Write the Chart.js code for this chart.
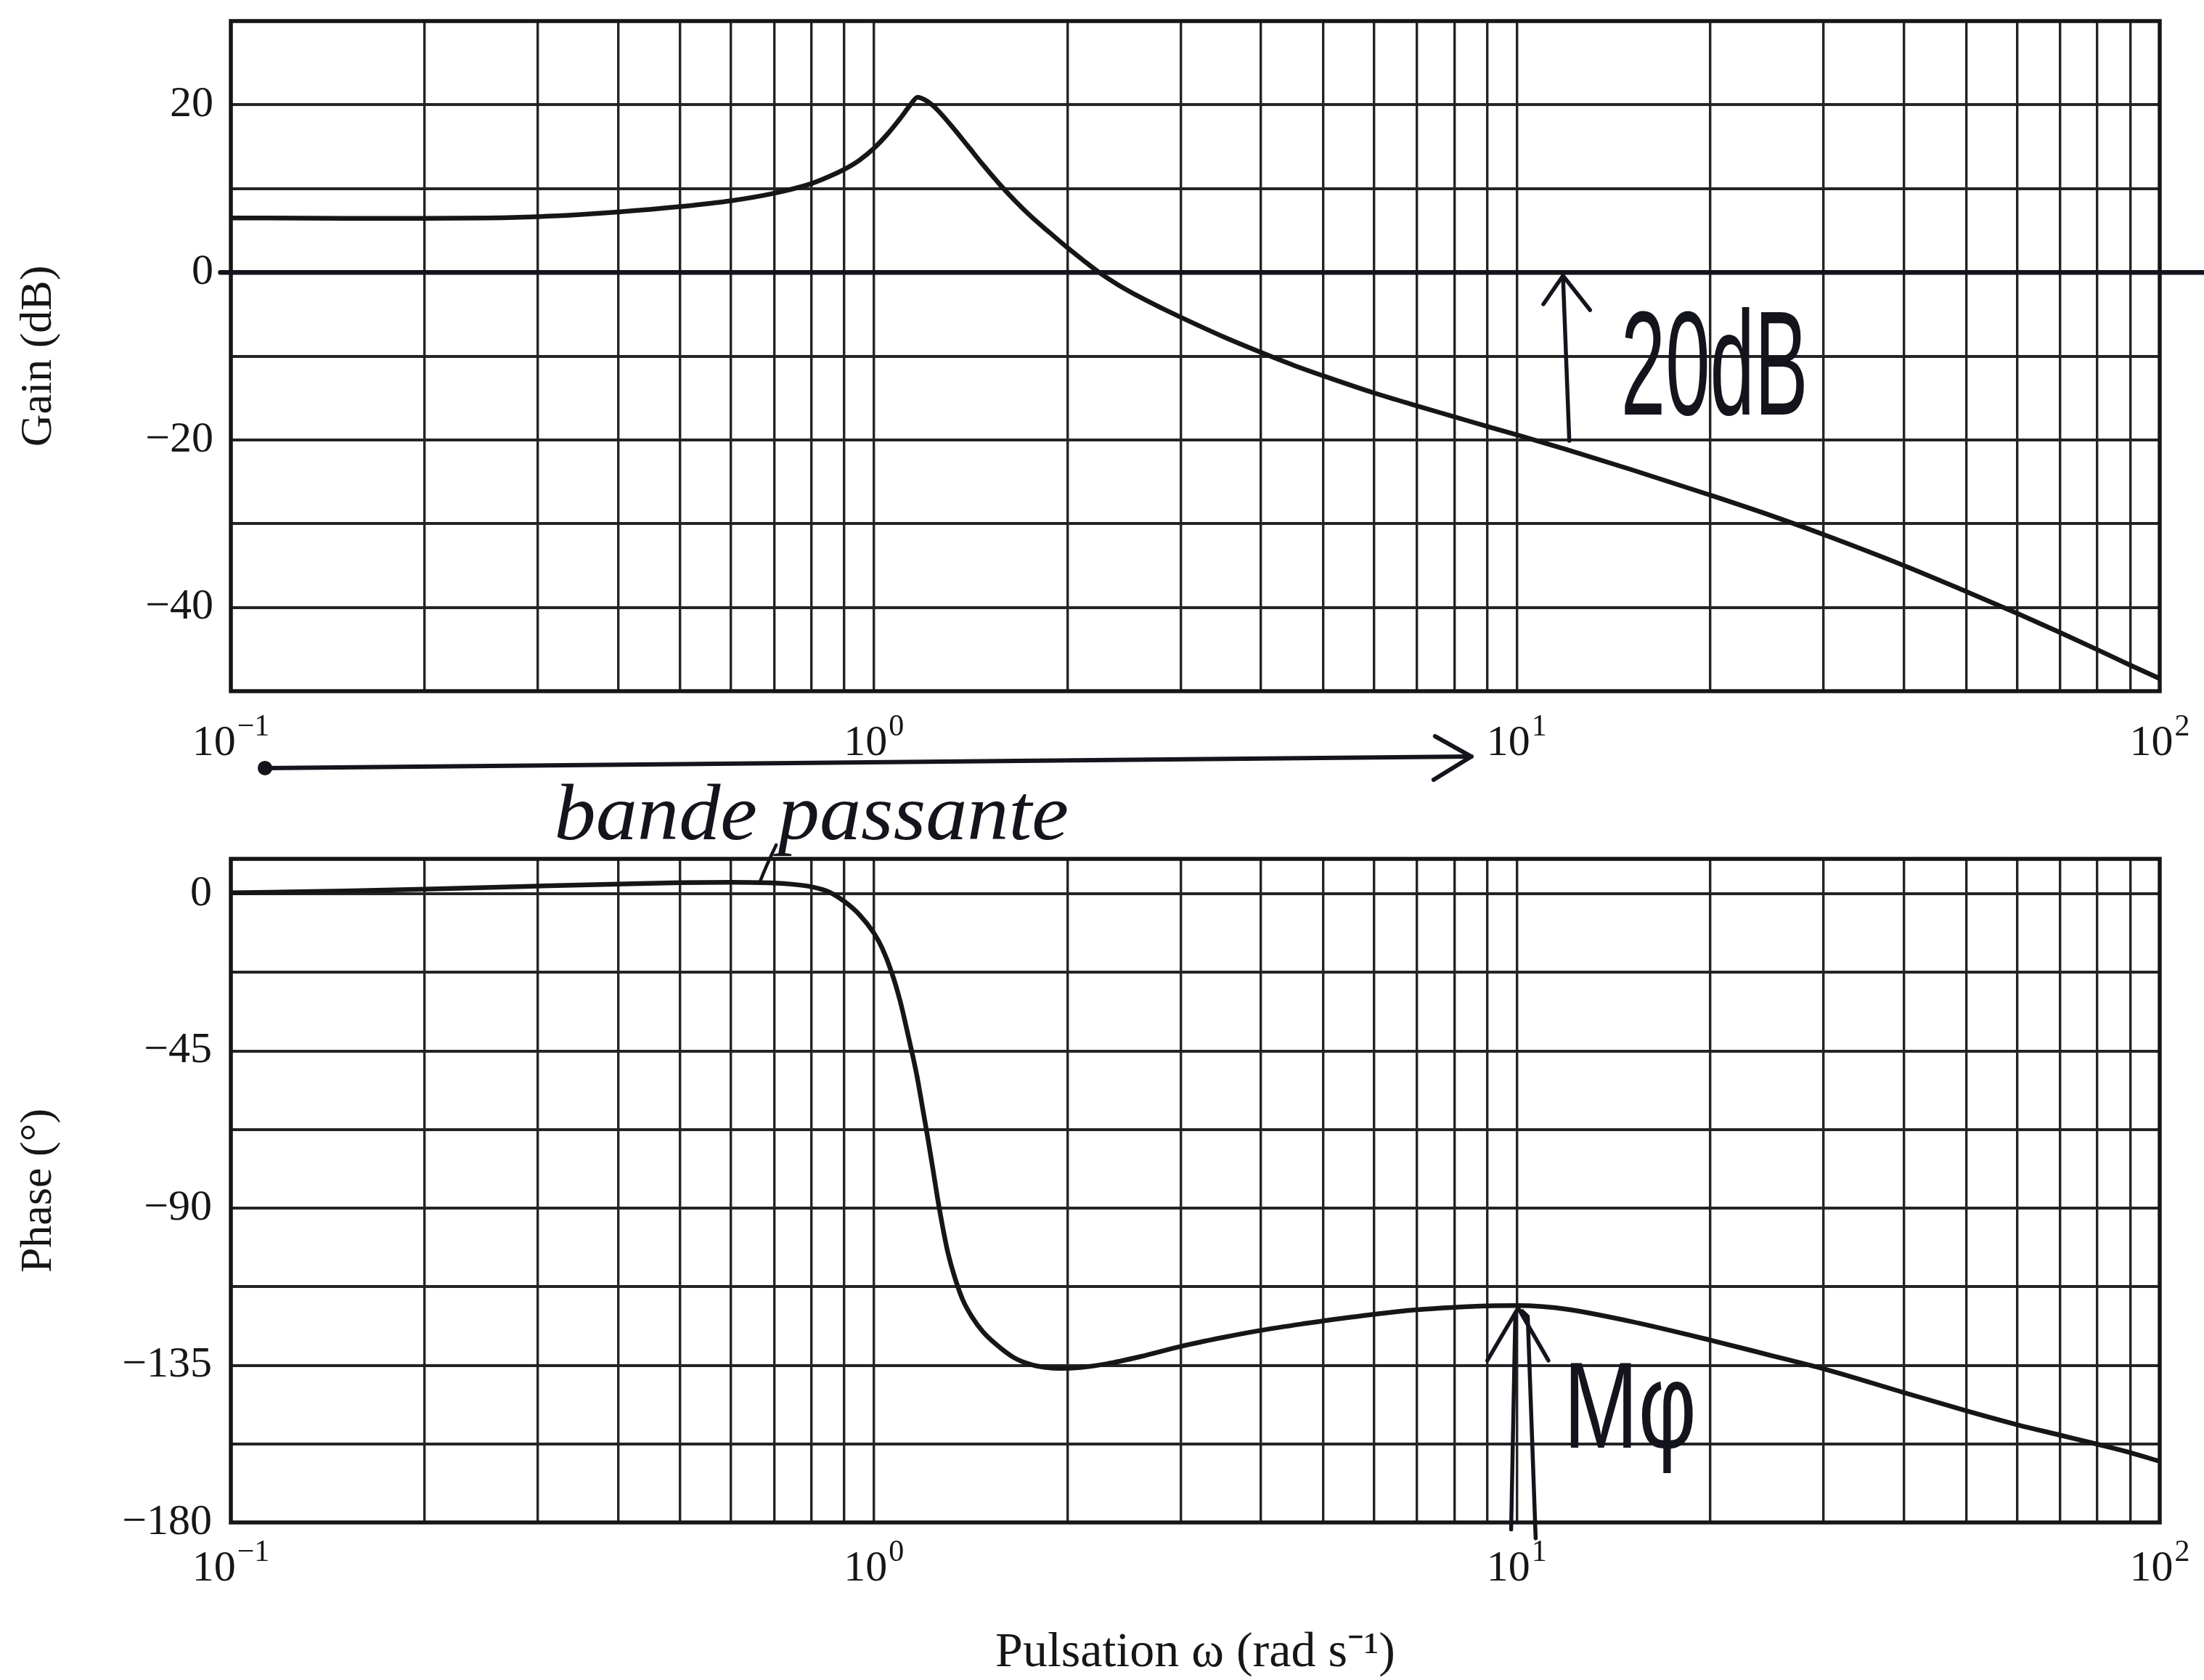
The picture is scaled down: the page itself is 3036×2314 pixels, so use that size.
<!DOCTYPE html>
<html><head><meta charset="utf-8">
<script src="https://cdn.jsdelivr.net/npm/chart.js@4.4.1/dist/chart.umd.min.js"></script>
<style>
html,body{margin:0;padding:0;background:#fff;}
body{width:3036px;height:2314px;position:relative;overflow:hidden;}
#g{position:absolute;left:0;top:0;}
#p{position:absolute;left:0;top:1000px;}
</style></head><body>
<canvas id="g" width="3036" height="1080"></canvas>
<canvas id="p" width="3036" height="1314"></canvas>
<script>
// ---------------- data ----------------
const omegaGain = [0.1,0.15,0.2,0.25,0.3,0.35,0.4,0.5,0.6,0.7,0.8,0.85,0.9,0.95,1.0,1.05,1.1,1.14,1.17,1.2,1.24,1.28,1.33,1.4,1.48,1.57,1.66,1.76,1.88,2.0,2.12,2.24,2.4,2.6,2.8,3.0,3.5,4.0,4.5,5.0,6.0,7.0,8.0,9.0,10,12,15,20,25,30,40,50,60,70,80,90,100];
const gainDb    = [6.5,6.45,6.45,6.5,6.65,6.9,7.2,7.85,8.55,9.45,10.6,11.4,12.3,13.4,14.8,16.5,18.4,20.0,20.9,20.6,19.8,18.7,17.2,15.1,12.8,10.5,8.5,6.6,4.7,2.95,1.4,0,-1.5,-3.0,-4.25,-5.35,-7.7,-9.55,-11.1,-12.35,-14.4,-15.95,-17.25,-18.4,-19.4,-21.2,-23.5,-26.6,-29.1,-31.3,-35.0,-38.1,-40.7,-43.0,-45.05,-46.9,-48.5];

const omegaPhase = [0.1,0.15,0.2,0.3,0.4,0.5,0.6,0.7,0.75,0.8,0.85,0.9,0.95,1.0,1.03,1.066,1.1,1.126,1.15,1.168,1.19,1.211,1.235,1.256,1.28,1.303,1.34,1.377,1.42,1.48,1.55,1.652,1.75,1.85,1.95,2.1,2.3,2.6,3.0,3.5,4.0,4.7,5.0,6.0,7.0,8.0,9.0,10,11,12,15,20,25,30,40,50,60,70,80,90,100];
const phaseDeg   = [0.3,0.8,1.3,2.2,2.8,3.2,3.3,3.1,2.7,2.0,0.6,-2.2,-6.0,-11.2,-15.5,-22.5,-31,-39,-46.5,-52.5,-61,-69,-78.5,-87,-95.5,-102.5,-110.5,-116.5,-121,-125.5,-129,-132.8,-134.7,-135.6,-135.9,-135.6,-134.6,-132.5,-129.6,-127,-125.0,-123,-122.3,-120.4,-119.1,-118.4,-118.0,-117.9,-118.2,-119,-122.4,-127.8,-132.3,-136,-142.8,-148,-152,-155,-157.6,-160,-162.5];

const xGridValues = [0.1,0.2,0.3,0.4,0.5,0.6,0.7,0.8,0.9,1,2,3,4,5,6,7,8,9,10,20,30,40,50,60,70,80,90,100];
const xDecades = [0.1,1,10,100];
const xDecadeExponents = ['\u22121','0','1','2'];
const gainGridValues = [-50,-40,-30,-20,-10,0,10,20,30];
const gainTickLabels = [20,0,-20,-40];
const phaseGridValues = [-180,-157.5,-135,-112.5,-90,-67.5,-45,-22.5,0];
const phaseTickLabels = [0,-45,-90,-135,-180];

// handwritten notes (data units: omega, dB or degrees)
const zeroLineStart = 0.0963;
const gainArrowBase = [12.07,-20.1];
const gainArrowTip = [11.8,-0.4];
const gainArrowWings = [[11.0,-3.8],[13.0,-4.5]];
const gainNoteText = '20dB';
const gainNoteBase = [20.3,-17.0];

const bandArrowStart = [0.113,36.0];
const bandArrowEnd = [8.5,39.3];
const bandNoteText = 'bande passante';
const bandNotePos = [0.80,21.5];
const bandPointer = [[0.705,14.0],[0.68,8],[0.665,3.4]];

const mphiShafts = [[[9.8,-182],[9.95,-120]],[[10.7,-184.5],[10.4,-121],[10.2,-119.5]]];
const mphiTip = [10.05,-118.6];
const mphiWings = [[9.0,-133.6],[11.2,-133.6]];
const mphiText = 'M\u03c6';
const mphiBase = [15.0,-158.5];

// ---------------- styles ----------------
const SERIF = '"Liberation Serif","Times New Roman",serif';
const HANDF = '"Liberation Sans","DejaVu Sans",sans-serif';
const INK = '#161616';
const PEN = '#14141c';
const AREA_LEFT = 318, AREA_RIGHT = 2975;

function fmt(v){ return v < 0 ? '\u2212' + Math.abs(v) : String(v); }

function xAxis(height){
  return {
    type:'logarithmic', min:0.1, max:100,
    afterBuildTicks: s => { s.ticks = xGridValues.map(v => ({value:v})); },
    afterFit: s => { s.height = height; s.paddingLeft = 0; s.paddingRight = 0; },
    ticks:{display:false},
    grid:{color:'#242424', lineWidth:3.4, drawTicks:false},
    border:{display:false}
  };
}
function yAxis(min,max,grid,labels,title,titlePad,tickPad){
  return {
    type:'linear', min:min, max:max,
    afterBuildTicks: s => { s.ticks = grid.map(v => ({value:v})); },
    afterFit: s => { s.width = AREA_LEFT; s.paddingTop = 0; s.paddingBottom = 0; },
    ticks:{ autoSkip:false, padding:tickPad, color:INK,
      font:{family:SERIF, size:60},
      callback: v => labels.includes(v) ? fmt(v) : '' },
    grid:{color:'#242424', lineWidth:4, drawTicks:false},
    border:{display:false},
    title:{display:true, text:title, color:INK, font:{family:SERIF, size:62}, padding:{top:titlePad, bottom:0}}
  };
}

const framePlugin = {
  id:'frame',
  afterDatasetsDraw(chart){
    const {ctx, chartArea:a} = chart;
    ctx.save(); ctx.strokeStyle = INK; ctx.lineWidth = 5.5;
    ctx.strokeRect(a.left, a.top, a.right - a.left, a.bottom - a.top);
    ctx.restore();
  }
};
const decadePlugin = {
  id:'decades',
  afterDraw(chart, args, opts){
    const {ctx, chartArea:a} = chart; const xs = chart.scales.x;
    ctx.save(); ctx.fillStyle = INK; ctx.textAlign = 'left'; ctx.textBaseline = 'alphabetic';
    xDecades.forEach((v,i) => {
      const px = xs.getPixelForValue(v);
      ctx.font = '60px ' + SERIF; const wb = ctx.measureText('10').width;
      ctx.font = '42px ' + SERIF; const we = ctx.measureText(xDecadeExponents[i]).width;
      const x0 = px - (wb + we + 2) / 2; const by = a.bottom + opts.offset;
      ctx.font = '60px ' + SERIF; ctx.fillText('10', x0, by);
      ctx.font = '42px ' + SERIF; ctx.fillText(xDecadeExponents[i], x0 + wb + 2, by - 27);
    });
    ctx.restore();
  }
};
function line(ctx, pts){ ctx.beginPath(); ctx.moveTo(pts[0][0], pts[0][1]); for (let i=1;i<pts.length;i++) ctx.lineTo(pts[i][0], pts[i][1]); ctx.stroke(); }

const gainNotes = {
  id:'gainNotes',
  afterDraw(chart){
    const {ctx} = chart; const xs = chart.scales.x, ys = chart.scales.y;
    const P = p => [xs.getPixelForValue(p[0]), ys.getPixelForValue(p[1])];
    ctx.save(); ctx.strokeStyle = PEN; ctx.fillStyle = PEN; ctx.lineCap = 'round'; ctx.lineJoin = 'round';
    ctx.lineWidth = 6.5;
    const y0 = ys.getPixelForValue(0);
    line(ctx, [[xs.getPixelForValue(zeroLineStart), y0], [chart.width, y0]]);
    ctx.lineWidth = 5.5;
    line(ctx, [P(gainArrowBase), P(gainArrowTip)]);
    line(ctx, [P(gainArrowWings[0]), P(gainArrowTip), P(gainArrowWings[1])]);
    const t = P(gainNoteBase);
    ctx.save(); ctx.translate(t[0], t[1]); ctx.scale(0.92, 1.7);
    ctx.font = '120px ' + HANDF; ctx.textAlign = 'center'; ctx.textBaseline = 'alphabetic';
    ctx.fillText(gainNoteText, 0, 0); ctx.restore();
    ctx.restore();
  }
};
const phaseNotes = {
  id:'phaseNotes',
  afterDraw(chart){
    const {ctx} = chart; const xs = chart.scales.x, ys = chart.scales.y;
    const P = p => [xs.getPixelForValue(p[0]), ys.getPixelForValue(p[1])];
    ctx.save(); ctx.strokeStyle = PEN; ctx.fillStyle = PEN; ctx.lineCap = 'round'; ctx.lineJoin = 'round';
    // bandwidth arrow
    ctx.lineWidth = 6;
    const a0 = P(bandArrowStart), a1 = P(bandArrowEnd);
    line(ctx, [a0, a1]);
    ctx.beginPath(); ctx.arc(a0[0], a0[1], 10, 0, Math.PI*2); ctx.fill();
    line(ctx, [[a1[0]-50, a1[1]-28], a1, [a1[0]-52, a1[1]+32]]);
    // text
    const t = P(bandNotePos);
    ctx.save(); ctx.translate(t[0], t[1]); ctx.scale(1.1, 1.05);
    ctx.font = 'italic 104px ' + SERIF; ctx.textAlign = 'center'; ctx.textBaseline = 'middle';
    ctx.fillText(bandNoteText, 0, 0); ctx.restore();
    ctx.lineWidth = 4.5;
    const q = bandPointer.map(P);
    ctx.beginPath(); ctx.moveTo(q[0][0], q[0][1]); ctx.quadraticCurveTo(q[1][0], q[1][1], q[2][0], q[2][1]); ctx.stroke();
    // phase margin arrow
    ctx.lineWidth = 5.5;
    mphiShafts.forEach(s => line(ctx, s.map(P)));
    line(ctx, [P(mphiWings[0]), P(mphiTip), P(mphiWings[1])]);
    const m = P(mphiBase);
    ctx.save(); ctx.translate(m[0], m[1]); ctx.scale(0.95, 1.3);
    ctx.font = '130px ' + HANDF; ctx.textAlign = 'center'; ctx.textBaseline = 'alphabetic';
    ctx.fillText(mphiText, 0, 0); ctx.restore();
    ctx.restore();
  }
};

const common = {
  responsive:false, devicePixelRatio:1, animation:false,
  plugins:{legend:{display:false}, tooltip:{enabled:false}},
  elements:{point:{radius:0}}
};

new Chart(document.getElementById('g'), {
  type:'line',
  data:{datasets:[{data: omegaGain.map((w,i)=>({x:w, y:gainDb[i]})), borderColor:INK, borderWidth:6.5, cubicInterpolationMode:'monotone', fill:false}]},
  options:Object.assign({}, common, {
    layout:{padding:{top:29, right:3036-AREA_RIGHT, left:0, bottom:0}},
    scales:{ x: xAxis(1080-952), y: yAxis(-50, 30, gainGridValues, gainTickLabels, 'Gain (dB)', 17, 24) },
    plugins:Object.assign({}, common.plugins, {decades:{offset:88}})
  }),
  plugins:[framePlugin, decadePlugin, gainNotes]
});

new Chart(document.getElementById('p'), {
  type:'line',
  data:{datasets:[{data: omegaPhase.map((w,i)=>({x:w, y:phaseDeg[i]})), borderColor:INK, borderWidth:6.5, cubicInterpolationMode:'monotone', fill:false}]},
  options:Object.assign({}, common, {
    layout:{padding:{top:183, right:3036-AREA_RIGHT, left:0, bottom:0}},
    scales:{
      x: Object.assign(xAxis(1314-1097), {title:{display:true, text:'Pulsation \u03c9 (rad s\u207b\u00b9)', color:INK, font:{family:SERIF, size:68}, padding:{top:0,bottom:-4}}}),
      y: yAxis(-180, 10, phaseGridValues, phaseTickLabels, 'Phase (\u00b0)', 17, 26)
    },
    plugins:Object.assign({}, common.plugins, {decades:{offset:80}})
  }),
  plugins:[framePlugin, decadePlugin, phaseNotes]
});
</script>
</body></html>
